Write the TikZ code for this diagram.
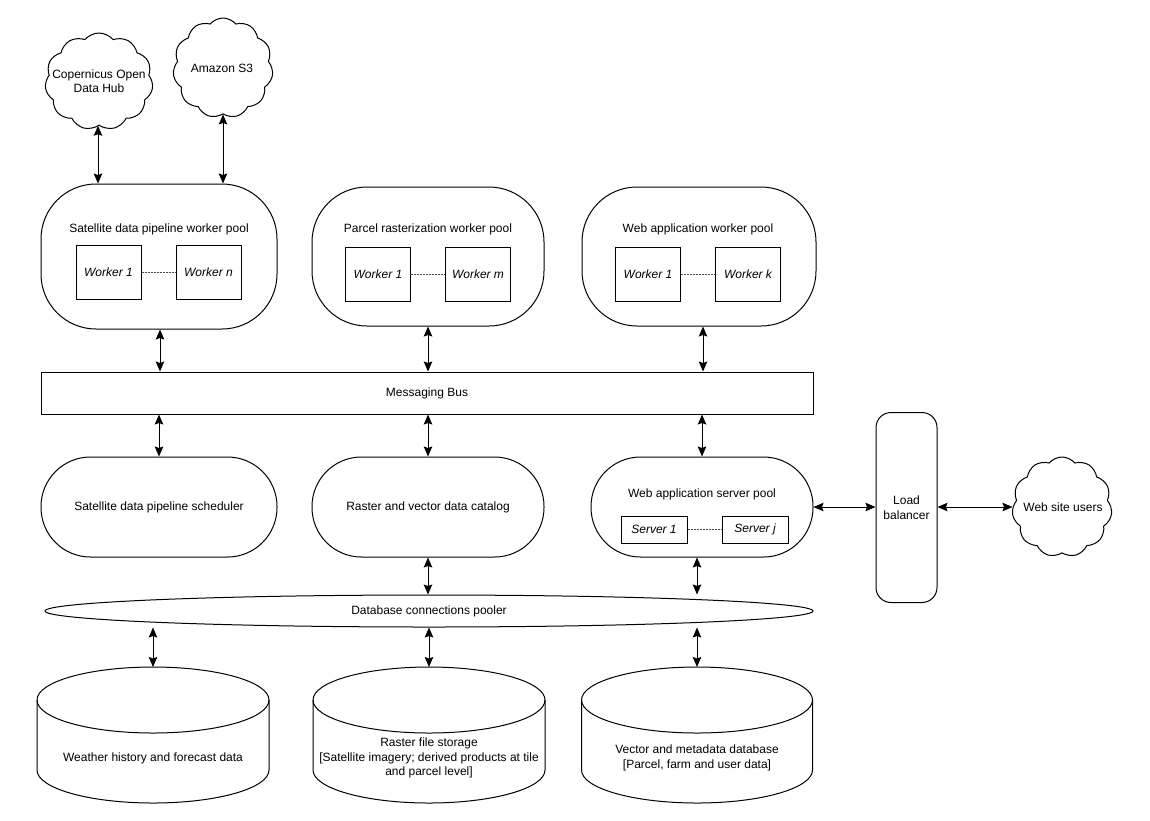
\documentclass[tikz,border=0pt]{standalone}
\usepackage{fontspec}
\setmainfont{Liberation Sans}
\usetikzlibrary{shapes.symbols,shapes.geometric,arrows.meta,calc}
\newcommand\mycyl[2]{%
  \path[base] (#1-#2,700) -- (#1-#2,770)
    arc[start angle=180,end angle=360,x radius=#2pt,y radius=33pt]
    -- (#1+#2,700)
    arc[start angle=0,end angle=180,x radius=#2pt,y radius=33pt] -- cycle;
  \draw[line width=1pt] (#1-#2,700)
    arc[start angle=180,end angle=360,x radius=#2pt,y radius=33pt];
}
\begin{document}
\begin{tikzpicture}[x=1pt,y=-1pt,
  every node/.style={font=\fontsize{12}{14.5}\selectfont, inner sep=0pt, align=center},
  base/.style={draw, line width=1pt, fill=white},
  pool/.style={base, rectangle, rounded corners=55pt},
  stadium/.style={base, rectangle, rounded corners=49.5pt, minimum height=100pt},
  wbox/.style={base, rectangle, minimum width=65pt, minimum height=54pt,
    font=\fontsize{12}{14.5}\selectfont\itshape},
  sbox/.style={base, rectangle, minimum width=66pt, minimum height=27pt,
    font=\fontsize{12}{14.5}\selectfont\itshape},
  cloudy/.style={base, cloud, cloud puffs=11, cloud puff arc=100, cloud ignores aspect},
  link/.style={line width=1pt,
    {Stealth[length=10pt,width=8.5pt,inset=1.5pt]}-{Stealth[length=10pt,width=8.5pt,inset=1.5pt]}},
  dotline/.style={draw=black!70, line width=0.6pt, dash pattern=on 2pt off 1pt}]
\useasboundingbox[fill=white] (0,0) rectangle (1150,820);

% clouds
\node[cloudy, minimum width=108pt, minimum height=97pt] (cop) at (99,81.5) {};
\node (coptxt) at (99,81) {Copernicus Open\\Data Hub};
\node[cloudy, minimum width=100pt, minimum height=100pt] (s3) at (223,68) {};
\node (s3txt) at (222,68) {Amazon S3};

% worker pools
\node[pool, minimum width=236pt, minimum height=145pt] (pool1) at (159,256.5) {};
\node (pool1t) at (159,229) {Satellite data pipeline worker pool};
\node[wbox] (p1w1) at (108.5,272) {Worker 1};
\node[wbox] (p1wn) at (208.5,272) {Worker n};
\draw[dotline] (p1w1.east) -- (p1wn.west);

\node[pool, minimum width=232pt, minimum height=139pt] (pool2) at (428,256.5) {};
\node (pool2t) at (428,229) {Parcel rasterization worker pool};
\node[wbox] (p2w1) at (378,274) {Worker 1};
\node[wbox] (p2wm) at (478,274) {Worker m};
\draw[dotline] (p2w1.east) -- (p2wm.west);

\node[pool, minimum width=234pt, minimum height=139pt] (pool3) at (699,256.5) {};
\node (pool3t) at (698,229) {Web application worker pool};
\node[wbox] (p3w1) at (648,274) {Worker 1};
\node[wbox] (p3wk) at (748,274) {Worker k};
\draw[dotline] (p3w1.east) -- (p3wk.west);

% messaging bus
\node[base, rectangle, minimum width=772pt, minimum height=42pt] (bus) at (427,393) {Messaging Bus};

% middle row
\node[stadium, minimum width=236pt] (sched) at (159,507) {Satellite data pipeline scheduler};
\node[stadium, minimum width=232pt] (cat) at (428,507) {Raster and vector data catalog};
\node[stadium, minimum width=222pt] (web) at (702,507) {};
\node (webt) at (702,494) {Web application server pool};
\node[sbox] (srv1) at (654,529.5) {Server 1};
\node[sbox] (srvj) at (755,529.5) {Server j};
\draw[dotline] (srv1.east) -- (srvj.west);

\node[base, rectangle, rounded corners=15pt, minimum width=61pt, minimum height=190pt] (lb) at (906.5,507.5) {Load\\balancer};
\node[cloudy, minimum width=100pt, minimum height=100pt] (users) at (1062,507) {};
\node (userstxt) at (1063,507) {Web site users};

% pooler
\node[base, ellipse, minimum width=768pt, minimum height=32pt] (pooler) at (429,611) {Database connections pooler};

% databases
\mycyl{153}{116}
\mycyl{429}{116}
\mycyl{697}{115.5}
\coordinate (db1) at (153,667);
\coordinate (db2) at (429,667);
\coordinate (db3) at (697,667);
\node (db1t) at (153,758) {Weather history and forecast data};
\node (db2t) at (429,758) {Raster file storage\\{}[Satellite imagery; derived products at tile\\and parcel level]};
\node (db3t) at (697,758) {Vector and metadata database\\{}[Parcel, farm and user data]};

% connectors
\draw[link] ([xshift=-1pt]cop.south) -- ([xshift=-1pt]cop.south |- pool1.north);
\draw[link] (s3.south) -- (s3.south |- pool1.north);
\draw[link] ([xshift=1pt]pool1.south) -- ([xshift=1pt]pool1.south |- bus.north);
\draw[link] (pool2.south) -- (pool2.south |- bus.north);
\draw[link] ([xshift=4pt]pool3.south) -- ([xshift=4pt]pool3.south |- bus.north);
\draw[link] (sched.north |- bus.south) -- (sched.north);
\draw[link] (cat.north |- bus.south) -- (cat.north);
\draw[link] (web.north |- bus.south) -- (web.north);
\draw[link] (cat.south) -- (cat.south |- pooler.north);
\draw[link] ([xshift=-5pt]web.south) -- ([xshift=-5pt]web.south |- pooler.north);
\draw[link] (db1 |- pooler.south) -- (db1);
\draw[link] (db2 |- pooler.south) -- (db2);
\draw[link] (db3 |- pooler.south) -- (db3);
\draw[link] (web.east) -- (web.east -| lb.west);
\draw[link] (lb.east |- users.west) -- (users.west);
\end{tikzpicture}
\end{document}
